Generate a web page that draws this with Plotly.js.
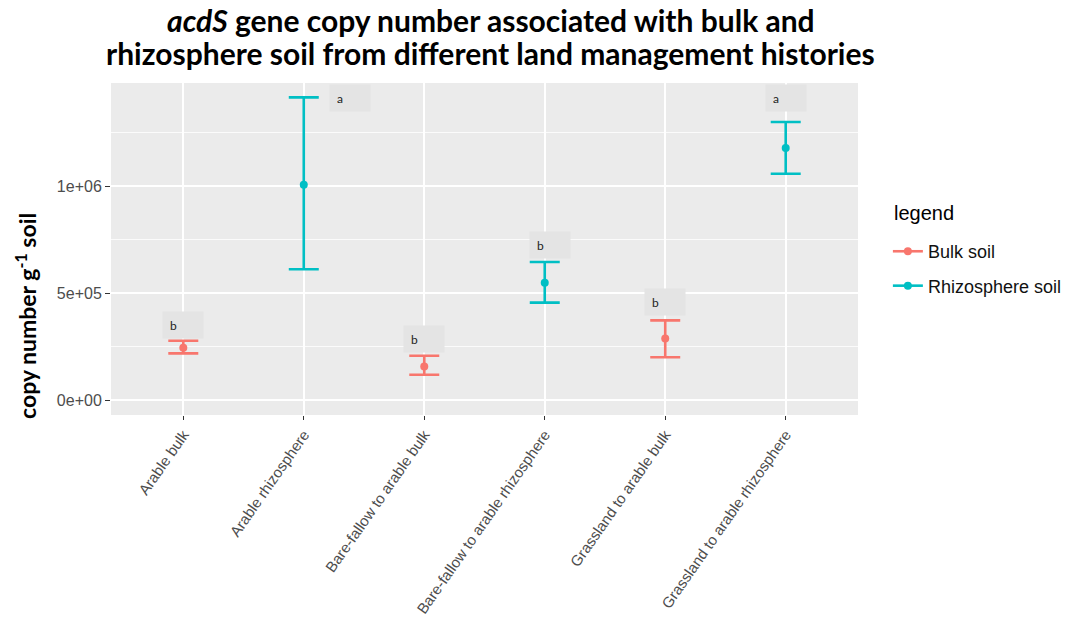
<!DOCTYPE html>
<html>
<head>
<meta charset="utf-8">
<script src="https://cdn.plot.ly/plotly-3.0.1.min.js"></script>
<style>html,body{margin:0;padding:0;background:#fff;}#chart{width:1089px;height:622px;}</style>
</head>
<body>
<div id="chart"></div>
<script>
// ---- data ----
const categories = ["Arable bulk", "Arable rhizosphere", "Bare-fallow to arable bulk",
  "Bare-fallow to arable rhizosphere", "Grassland to arable bulk", "Grassland to arable rhizosphere"];
const soilType = ["Bulk soil", "Rhizosphere soil", "Bulk soil", "Rhizosphere soil", "Bulk soil", "Rhizosphere soil"];
const meanVals = [244000, 1006000, 156000, 548000, 287000, 1178000];
const upperVals = [277000, 1414000, 207000, 645000, 372000, 1299000];
const lowerVals = [218000, 611000, 118000, 455000, 200000, 1057000];
const sigLetters = ["b", "a", "b", "b", "b", "a"];
const letterY = [350000, 1413000, 287000, 724000, 456000, 1413000];
const letterX = [0, 1.38, 2, 3.04, 4, 5];
const yTickVals = [0, 500000, 1000000];
const yTickText = ["0e+00", "5e+05", "1e+06"];
const yMinorVals = [250000, 750000, 1250000];
const groups = ["Bulk soil", "Rhizosphere soil"];
const groupColors = ["#F8766D", "#00BFC4"];
const titleLines = ["<i>acdS</i> gene copy number associated with bulk and",
  "rhizosphere soil from different land management histories"];
const yTitle = "copy number g<sup>-1</sup> soil";
const legendTitle = "legend";

// ---- traces ----
const traces = [];
groups.forEach((g, gi) => {
  const idx = categories.map((c, i) => i).filter(i => soilType[i] === g);
  traces.push({
    type: "scatter", mode: "markers", showlegend: false, name: g,
    x: idx.map(i => categories[i]),
    y: idx.map(i => meanVals[i]),
    marker: {color: groupColors[gi], size: 8},
    error_y: {
      type: "data", symmetric: false,
      array: idx.map(i => upperVals[i] - meanVals[i]),
      arrayminus: idx.map(i => meanVals[i] - lowerVals[i]),
      color: groupColors[gi], thickness: 2.6, width: 15
    },
    hoverinfo: "x+y"
  });
});
groups.forEach((g, gi) => {
  traces.push({
    type: "scatter", mode: "lines+markers", name: g, x: [null], y: [null],
    legendgroup: "g" + gi,
    line: {color: groupColors[gi], width: 2.6},
    marker: {color: groupColors[gi], size: 8}
  });
});

const annotations = sigLetters.map((t, i) => ({
  x: letterX[i], y: letterY[i], xref: "x", yref: "y",
  text: t, showarrow: false, align: "left",
  width: 26, height: 12, borderpad: 7,
  bgcolor: "#e4e4e4",
  font: {family: "Lato, 'Open Sans', sans-serif", size: 12, color: "#222"}
}));
const titleY = [1.1898, 1.0904];
titleLines.forEach((t, i) => annotations.push({
  xref: "paper", yref: "paper", x: 0.5087, y: titleY[i],
  xanchor: "center", yanchor: "middle", text: t, showarrow: false,
  font: {family: "Lato, 'Open Sans', sans-serif", size: 30, color: "#000", weight: "bold"}
}));
annotations.push({
  xref: "paper", yref: "paper", x: -0.114, y: 0.298,
  xanchor: "center", yanchor: "middle",
  text: yTitle, textangle: -90, showarrow: false,
  font: {family: "Lato, 'Open Sans', sans-serif", size: 23, color: "#000", weight: "bold"}
});
annotations.push({
  xref: "paper", yref: "paper", x: 1.0455, y: 0.608,
  xanchor: "left", yanchor: "middle",
  text: legendTitle, showarrow: false,
  font: {family: "'Liberation Sans', Arial, sans-serif", size: 20, color: "#000"}
});

const layout = {
  width: 1089, height: 622,
  margin: {l: 111, r: 231, t: 83, b: 207},
  paper_bgcolor: "#ffffff",
  plot_bgcolor: "#ebebeb",
  xaxis: {
    type: "category", categoryorder: "array", categoryarray: categories,
    range: [-0.6, 5.6],
    showgrid: true, gridcolor: "#ffffff", gridwidth: 1.6,
    zeroline: false, showline: false,
    ticks: "outside", ticklen: 4, tickcolor: "#333333", tickwidth: 1,
    tickangle: -55,
    tickfont: {family: "'Liberation Sans', Arial, sans-serif", size: 15, color: "#4d4d4d"}
  },
  yaxis: {
    range: [-70093, 1481308],
    tickmode: "array", tickvals: yTickVals, ticktext: yTickText,
    showgrid: true, gridcolor: "#ffffff", gridwidth: 1.6,
    minor: {tickmode: "array", tickvals: yMinorVals, showgrid: true, gridcolor: "#ffffff", gridwidth: 0.8, ticklen: 0},
    zeroline: false, showline: false,
    ticks: "outside", ticklen: 5, tickcolor: "#333333", tickwidth: 1,
    tickfont: {family: "'Liberation Sans', Arial, sans-serif", size: 16, color: "#4d4d4d"}
  },
  legend: {
    x: 1.04, xanchor: "left", y: 0.548, yanchor: "top",
    tracegroupgap: 8,
    font: {family: "'Liberation Sans', Arial, sans-serif", size: 18, color: "#111"},
    bgcolor: "rgba(0,0,0,0)"
  },
  annotations: annotations,
  showlegend: true
};

Plotly.newPlot("chart", traces, layout, {displayModeBar: false, staticPlot: true});
</script>
</body>
</html>
